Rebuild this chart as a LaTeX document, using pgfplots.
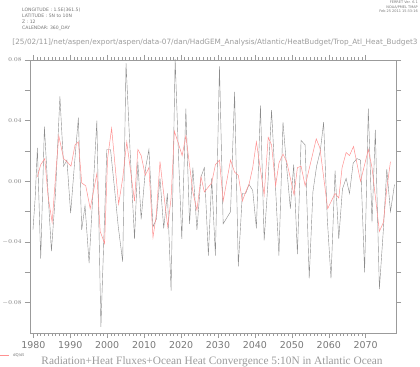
\documentclass[border=0pt]{standalone}
\usepackage{pgfplots}
\pgfplotsset{compat=1.18}
\usepackage{graphicx}
\usepackage{fontspec}
\setmainfont{DejaVu Sans}
\newfontfamily\serifft{Liberation Serif}
\definecolor{grayline}{RGB}{140,140,140}
\definecolor{redline}{RGB}{255,145,145}
\definecolor{axgray}{RGB}{155,155,155}
\definecolor{txtgray}{RGB}{120,120,120}
\pgfplotstableread{
x y
1979.9 -0.032
1980.5 -0.011
1981.1 0.022
1982.0 -0.051
1983.0 0.036
1984.0 -0.008
1984.9 -0.046
1986.0 -0.008
1987.2 0.056
1988.2 0.010
1989.1 0.014
1990.1 -0.021
1991.1 0.010
1992.2 0.042
1993.1 -0.032
1994.0 -0.016
1995.1 -0.054
1996.2 -0.005
1997.2 0.040
1998.3 -0.096
1999.9 0.021
2000.9 0.021
2002.0 -0.005
2003.0 -0.030
2004.2 -0.053
2005.1 0.078
2006.2 0.020
2007.4 -0.038
2008.3 0.013
2009.2 -0.025
2010.4 0.009
2011.3 0.021
2012.4 -0.030
2013.3 -0.025
2014.3 0.002
2015.3 -0.031
2016.3 -0.008
2017.3 -0.072
2018.4 0.081
2019.4 0.011
2020.2 -0.038
2021.3 0.048
2022.3 -0.028
2023.2 0.009
2024.3 -0.032
2025.4 0.003
2026.3 0.009
2027.4 -0.049
2028.3 0.002
2029.3 -0.049
2030.4 0.076
2031.4 -0.028
2032.4 -0.024
2033.4 -0.020
2034.5 0.059
2035.5 -0.056
2036.6 -0.008
2037.5 -0.008
2038.4 -0.002
2039.4 -0.006
2040.4 -0.031
2041.5 0.050
2042.5 -0.039
2043.5 -0.002
2044.5 0.047
2045.5 0.000
2046.5 -0.049
2047.6 0.039
2048.6 0.009
2049.6 -0.018
2050.5 0.011
2051.5 -0.048
2052.5 0.027
2053.6 0.024
2054.7 -0.064
2055.7 -0.007
2056.7 0.010
2057.7 0.020
2058.6 0.039
2059.6 -0.025
2060.6 -0.064
2061.7 0.007
2062.7 -0.038
2063.7 -0.005
2064.7 0.002
2065.6 -0.008
2066.6 0.012
2067.6 0.015
2068.6 0.014
2069.7 -0.060
2070.7 0.048
2071.7 -0.027
2072.6 0.034
2073.7 -0.071
2074.8 -0.031
2075.7 0.008
2076.7 -0.020
2077.8 -0.002
}\graydata
\pgfplotstableread{
x y
1981.1 0.003
1982.0 0.011
1983.1 0.015
1984.0 -0.010
1985.1 -0.027
1986.2 0.009
1986.9 0.030
1988.2 0.015
1989.1 0.013
1990.2 0.010
1991.3 0.024
1992.2 0.026
1993.1 -0.001
1994.2 -0.003
1995.4 -0.018
1997.2 0.005
1998.1 -0.033
1999.3 -0.041
2000.1 0.015
2001.2 0.035
2003.1 -0.015
2004.2 0.002
2005.3 0.026
2007.4 -0.013
2008.3 0.021
2009.2 0.017
2010.3 0.004
2011.3 0.009
2012.4 -0.037
2013.3 -0.022
2014.3 0.013
2015.2 -0.006
2016.4 -0.030
2017.3 -0.011
2018.2 0.033
2019.4 0.024
2020.3 0.017
2021.3 0.030
2023.2 -0.007
2024.3 -0.019
2025.4 0.003
2026.3 -0.007
2028.3 -0.001
2029.3 0.011
2030.4 0.014
2031.4 -0.013
2033.4 0.014
2034.5 0.006
2035.5 0.004
2036.6 -0.013
2037.5 -0.007
2038.4 -0.002
2039.4 0.009
2040.4 0.026
2042.5 -0.009
2043.6 0.029
2044.5 0.024
2045.6 -0.003
2046.5 0.012
2047.6 0.018
2048.6 0.013
2050.6 -0.009
2051.5 0.009
2052.5 0.010
2053.6 -0.003
2056.6 0.028
2057.6 0.022
2059.7 -0.018
2061.7 -0.008
2062.7 -0.011
2063.6 0.009
2064.7 0.019
2065.6 0.017
2066.7 0.023
2068.6 0.000
2069.7 0.011
2070.7 0.021
2071.7 0.009
2073.7 -0.033
2074.8 -0.027
2075.7 -0.005
2076.7 0.013
}\reddata
\begin{document}
\begin{tikzpicture}
\path[use as bounding box] (-30bp,-34bp) rectangle (390bp,333bp);
\begin{axis}[
  at={(0,0)}, anchor=south west,
  scale only axis, width=366bp, height=273bp,
  xmin=1979.1, xmax=2078.2, ymin=-0.1, ymax=0.08,
  axis line style={axgray, line width=0.6bp},
  xtick={1980,1990,...,2070},
  minor x tick num=9,
  ytick={-0.08,-0.06,-0.04,-0.02,0,0.02,0.04,0.06,0.08},
  yticklabels={$-0.08$,,$-0.04$,,$0.00$,,$0.04$,,$0.08$},
  tick align=outside,
  xtick pos=both, ytick pos=both,
  xticklabel pos=lower, yticklabel pos=left,
  major tick length=5bp, minor tick length=2.7bp,
  tick style={axgray, line width=0.5bp},
  xticklabel style={font=\fontsize{9.5}{10}\selectfont, text=txtgray, /pgf/number format/1000 sep={}},
  yticklabel style={font=\fontsize{6}{7}\selectfont, text=txtgray},
  /pgf/number format/assume math mode=true,
  clip=true,
]
\addplot[grayline, line width=0.4bp] table[x=x,y=y] {\graydata};
\addplot[redline, line width=0.5bp] table[x=x,y=y] {\reddata};
\end{axis}
% header texts
\node[anchor=north west, inner sep=0pt, align=left, text=txtgray, font=\fontsize{4.6}{5.9}\selectfont] at (-8bp,325bp)
  {LONGITUDE : 1.5E(361.5)\\LATITUDE : 5N to 10N\\Z : 12\\CALENDAR: 360\_DAY};
\node[anchor=north east, inner sep=0pt, align=right, text=txtgray, font=\fontsize{3.5}{4.4}\selectfont] at (388bp,332bp)
  {FERRET Ver. 6.1\\NOAA/PMEL TMAP\\Feb 25 2011 15:33:16};
\node[anchor=center, inner sep=0pt, text=axgray] at (185bp,290bp)
  {\resizebox{405bp}{!}{\fontsize{8}{9}\selectfont [25/02/11]/net/aspen/export/aspen/data-07/dan/HadGEM\_Analysis/Atlantic/HeatBudget/Trop\_Atl\_Heat\_Budget3}};
% legend
\draw[redline, line width=0.5bp] (-30bp,-22bp) -- (-21bp,-22bp);
\node[anchor=west, inner sep=0pt, text=txtgray, font=\fontsize{4}{5}\selectfont] at (-17bp,-22bp) {dQ/dt};
% bottom title
\node[anchor=center, inner sep=0pt, text=axgray] at (182bp,-29bp)
  {\resizebox{341bp}{!}{\serifft\fontsize{9}{10}\selectfont Radiation+Heat Fluxes+Ocean Heat Convergence 5:10N in Atlantic Ocean}};
\end{tikzpicture}
\end{document}
